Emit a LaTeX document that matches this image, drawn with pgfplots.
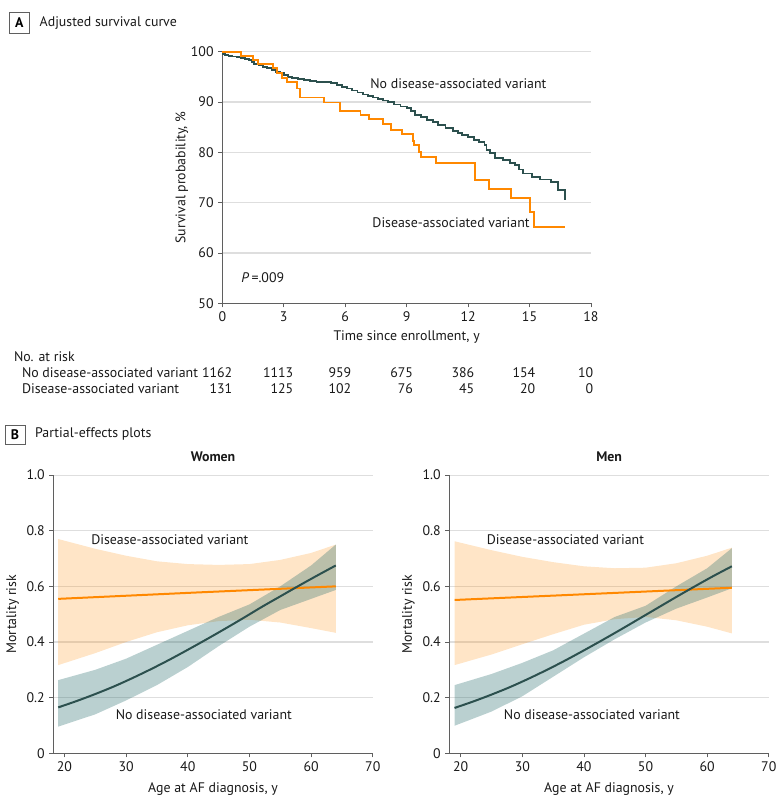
\documentclass[border=0pt]{standalone}
\usepackage{pgfplots}
\pgfplotsset{compat=1.18}
\usepackage{fontspec}
\setmainfont{PT Sans}
\definecolor{tealc}{RGB}{44,80,78}
\definecolor{tealf}{RGB}{40,110,110}
\definecolor{orng}{RGB}{255,136,0}
\definecolor{grd}{RGB}{222,222,222}
\definecolor{axc}{RGB}{95,95,95}
\definecolor{txt}{RGB}{25,25,25}
\newcommand{\fs}{\fontsize{10.4}{12.5}\selectfont}
\pgfplotsset{
  base/.style={
    scale only axis, anchor=south west, clip=false,
    axis lines*=left,
    axis line style={axc, line width=0.6pt},
    tick style={axc, line width=0.6pt},
    tick align=outside, major tick length=3pt,
    ymajorgrids, grid style={grd, line width=0.8pt},
    tick label style={font=\fs, text=txt},
    label style={font=\fs, text=txt},
    /pgf/number format/assume math mode=true,
  },
  pe/.style={
    base, width=239.6pt, height=208.7pt,
    xmax=70, ymin=0, ymax=1,
    xtick={20,30,40,50,60,70},
    ytick={0,0.2,0.4,0.6,0.8,1}, yticklabels={0,0.2,0.4,0.6,0.8,1.0},
    xlabel={Age at AF diagnosis, y}, ylabel={Mortality risk},
    xlabel style={at={(axis description cs:0.5,-0.129)}, anchor=center},
  }
}
\begin{document}
\begin{tikzpicture}[font=\fs]
\begin{scope}[x=0.75pt, y=-0.75pt]
\path[use as bounding box] (0,0) rectangle (780,809);
% ---------- Panel A header ----------
\draw[axc, line width=0.6pt] (9.3,12.3) rectangle (29,33.3);
\node[font=\fs\bfseries] at (19.2,22.8) {A};
\node[anchor=west, text=txt] at (35,23) {Adjusted survival curve};
% ---------- Risk table ----------
\node[anchor=west, text=txt] at (9.3,357) {No. at risk};
\node[anchor=west, text=txt] at (17.3,373) {No disease-associated variant};
\node[anchor=west, text=txt] at (17.3,389) {Disease-associated variant};
\foreach \xx/\a/\b in {236/1162/131, 297/1113/125, 355/959/102, 416.7/675/76, 478/386/45, 539/154/20, 597/10/0}{
  \node[anchor=east, text=txt] at (\xx+1,373) {\a};
  \node[anchor=east, text=txt] at (\xx+1,389) {\b};
}
% ---------- Panel B header ----------
\draw[axc, line width=0.6pt] (5,425) rectangle (25,444);
\node[font=\fs\bfseries] at (15,434.5) {B};
\node[anchor=west, text=txt] at (30.5,434) {Partial-effects plots};
\end{scope}

\begin{axis}[base,
  at={({222.3*0.75pt},{-303.3*0.75pt})},
  width=276.5pt, height=188.7pt,
  xmin=0, xmax=18, ymin=50, ymax=100,
  xtick={0,3,6,9,12,15,18}, ytick={50,60,70,80,90,100},
  xlabel={Time since enrollment, y},
  ylabel={Survival probability, \%},
  xlabel style={at={(axis description cs:0.5,-0.135)}, anchor=center},
  ylabel style={at={(axis description cs:-0.110,0.5)}, anchor=center},
]
\addplot[const plot, tealc, line width=1.4pt] coordinates {
(0,99.5) (0.15,99.4) (0.3,99.2) (0.5,99.05) (0.7,98.9) (0.9,98.75) (1.1,98.6)
(1.3,98.35) (1.45,97.9) (1.55,97.5) (1.8,97.25) (2.0,96.95) (2.2,96.7) (2.4,96.3)
(2.6,96.0) (2.8,95.7) (3.0,95.35) (3.2,95.05) (3.4,94.85) (3.7,94.6) (4.0,94.35)
(4.3,94.1) (4.6,94.0) (5.0,93.9) (5.3,93.7) (5.6,93.4) (5.85,93.05) (6.1,92.7)
(6.35,92.3) (6.6,91.9) (6.85,91.5) (7.1,91.2) (7.35,90.9) (7.6,90.6) (7.85,90.3)
(8.1,90.0) (8.4,89.5) (8.7,89.1) (9.0,88.75) (9.2,88.2) (9.4,87.5) (9.7,87.0)
(10.0,86.5) (10.3,86.0) (10.55,85.4) (10.9,84.9) (11.25,84.3) (11.5,83.8) (11.7,83.4)
(12.0,83.0) (12.3,82.4) (12.55,82.0) (12.8,81.4) (12.9,80.4) (13.05,79.8) (13.3,78.8)
(13.7,78.4) (14.05,77.9) (14.3,77.5) (14.5,76.6) (14.7,75.8) (15.1,75.1) (15.5,74.6)
(16.05,74.1) (16.4,72.5) (16.75,70.5)
};
\addplot[const plot, orng, line width=1.4pt] coordinates {
(0,100) (0.91,99.2) (1.48,98.35) (1.76,97.5) (2.49,96.7) (2.65,95.7) (2.90,94.8)
(3.14,94.0) (3.63,92.7) (3.79,90.9) (4.98,89.9) (5.74,88.27) (6.75,87.42) (7.16,86.55)
(7.85,85.56) (8.23,84.43) (8.78,83.64) (9.29,82.2) (9.37,81.45) (9.61,80.1) (9.68,79.0)
(10.42,77.94) (12.33,74.5) (13.02,72.77) (14.08,70.98) (15.01,68.13) (15.22,65.2) (16.75,65.2)
};
\node[anchor=west, text=txt] at (axis cs:7.0,93.6) {No disease-associated variant};
\node[anchor=west, text=txt] at (axis cs:7.1,66.0) {Disease-associated variant};
\node[anchor=west, text=txt] at (axis cs:0.7,55.1) {\textit{P}\,=.009};
\end{axis}

% ---------- Women ----------
\begin{axis}[pe,
  at={({53.3*0.75pt},{-753.3*0.75pt})}, xmin=18.2,
  ylabel style={at={(axis description cs:-0.127,0.5)}, anchor=center},
]
\addplot[fill=orng, fill opacity=0.22, draw=none] coordinates {
(19,0.77) (25,0.735) (30,0.71) (35,0.69) (40,0.68) (45,0.677) (50,0.68) (55,0.695) (60,0.72) (64,0.75)
(64,0.433) (60,0.45) (55,0.47) (50,0.48) (45,0.475) (40,0.46) (35,0.435) (30,0.40) (25,0.36) (19,0.317)
} -- cycle;
\addplot[fill=tealf, fill opacity=0.32, draw=none] coordinates {
(19,0.263) (25,0.30) (30,0.34) (35,0.39) (40,0.44) (45,0.49) (50,0.535) (55,0.60) (60,0.675) (64,0.75)
(64,0.587) (60,0.555) (55,0.515) (50,0.455) (45,0.385) (40,0.31) (35,0.245) (30,0.19) (25,0.14) (19,0.096)
} -- cycle;
\addplot[orng, line width=1.5pt] coordinates {(19,0.555) (41.5,0.578) (64,0.600)};
\addplot[tealc, line width=1.5pt, smooth] coordinates {
(19,0.165) (22,0.188) (25,0.213) (28,0.240) (31,0.270) (34,0.302) (37,0.336) (40,0.372)
(43,0.409) (46,0.447) (49,0.486) (52,0.526) (55,0.564) (58,0.602) (61,0.639) (64,0.675)
};
\node[text=txt, font=\fs\bfseries] at (axis cs:44.1,1.064) {Women};
\node[text=txt] at (axis cs:37.1,0.769) {Disease-associated variant};
\node[text=txt] at (axis cs:42.6,0.138) {No disease-associated variant};
\end{axis}

% ---------- Men ----------
\begin{axis}[pe,
  at={({449.3*0.75pt},{-753.3*0.75pt})}, xmin=18.15,
  ylabel style={at={(axis description cs:-0.128,0.5)}, anchor=center},
]
\addplot[fill=orng, fill opacity=0.22, draw=none] coordinates {
(19,0.762) (25,0.73) (30,0.706) (35,0.687) (40,0.672) (45,0.665) (50,0.667) (55,0.683) (60,0.71) (64,0.739)
(64,0.431) (60,0.455) (55,0.478) (50,0.49) (45,0.482) (40,0.462) (35,0.428) (30,0.392) (25,0.355) (19,0.317)
} -- cycle;
\addplot[fill=tealf, fill opacity=0.32, draw=none] coordinates {
(19,0.245) (25,0.285) (30,0.325) (35,0.37) (40,0.43) (45,0.49) (50,0.53) (55,0.60) (60,0.665) (64,0.737)
(64,0.593) (60,0.56) (55,0.52) (50,0.47) (45,0.41) (40,0.345) (35,0.275) (30,0.205) (25,0.15) (19,0.099)
} -- cycle;
\addplot[orng, line width=1.5pt] coordinates {(19,0.551) (41.5,0.573) (64,0.595)};
\addplot[tealc, line width=1.5pt, smooth] coordinates {
(19,0.163) (22,0.186) (25,0.211) (28,0.238) (31,0.268) (34,0.300) (37,0.334) (40,0.370)
(43,0.407) (46,0.445) (49,0.484) (52,0.523) (55,0.562) (58,0.600) (61,0.637) (64,0.672)
};
\node[text=txt, font=\fs\bfseries] at (axis cs:44.1,1.064) {Men};
\node[text=txt] at (axis cs:37.0,0.769) {Disease-associated variant};
\node[text=txt] at (axis cs:41.3,0.138) {No disease-associated variant};
\end{axis}
\end{tikzpicture}
\end{document}
